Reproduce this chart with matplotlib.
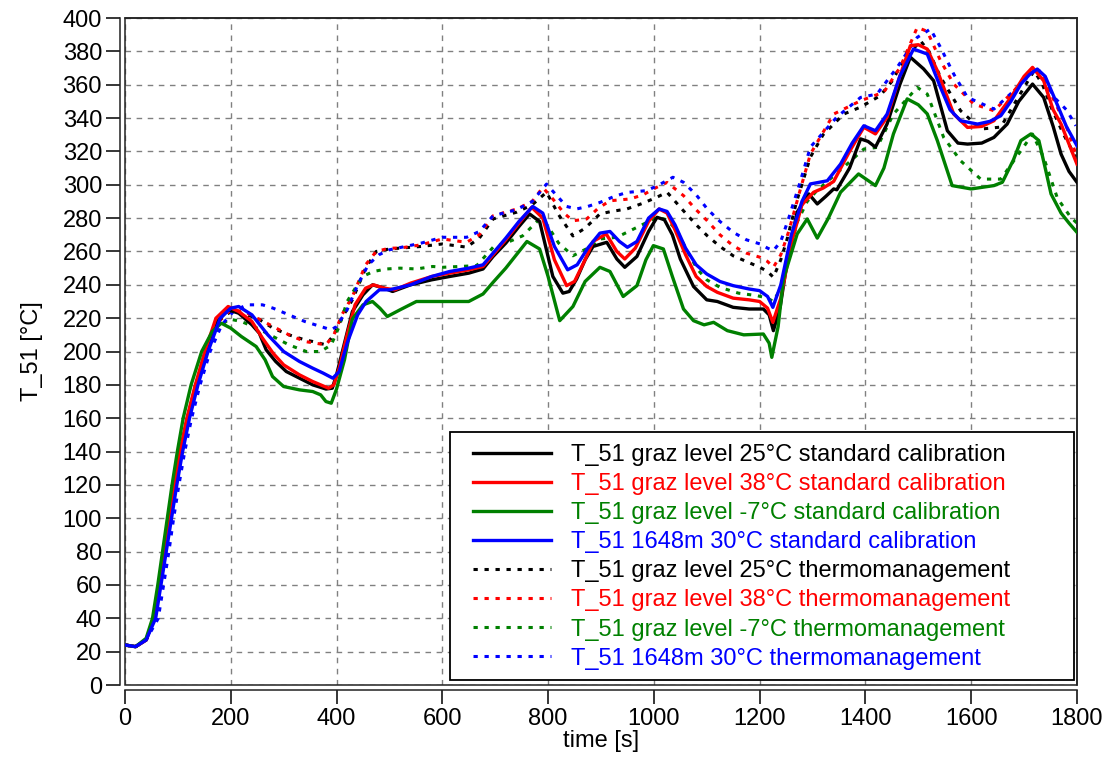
import matplotlib
matplotlib.use("Agg")
import matplotlib.pyplot as plt
from matplotlib.patches import Rectangle

plt.rcParams["font.family"] = ["Liberation Sans", "DejaVu Sans"]

# black solid: graz level 25°C standard calibration
t_bs = [0, 20, 40, 55, 65, 75, 84, 94, 105, 118, 134, 153, 175, 195, 215, 240, 254, 267, 285, 305, 330, 355, 380, 392, 400, 415, 430, 450, 468, 490, 506, 540, 580, 614, 650, 677, 696, 720, 745, 765, 784, 809, 828, 840, 854, 870, 885, 911, 930, 945, 968, 990, 1006, 1020, 1035, 1050, 1075, 1100, 1120, 1150, 1180, 1207, 1218, 1226, 1239, 1255, 1271, 1293, 1309, 1325, 1340, 1346, 1370, 1391, 1405, 1419, 1441, 1465, 1485, 1510, 1529, 1555, 1575, 1593, 1620, 1643, 1668, 1690, 1716, 1737, 1755, 1770, 1785, 1800]
T_bs = [24, 23, 27, 40, 60, 80, 100, 120, 140, 160, 180, 200, 218, 225, 223, 216, 211, 201, 194, 188, 184, 180, 177.5, 178, 186, 205, 224, 234, 240, 238, 236, 240, 243, 245, 247, 249.5, 257, 265, 275, 282.5, 278, 245, 235, 236, 243.5, 255, 263, 265.5, 255.5, 250.5, 257, 272, 280.5, 279, 270, 255.5, 239, 231, 230, 226.5, 225.5, 225.5, 222, 212.5, 227, 260, 283.6, 294.5, 288.5, 293, 297.5, 297, 310, 327.5, 326, 322.6, 336.5, 360, 376.5, 369.5, 362.4, 332.4, 325, 324.4, 325, 328.4, 336.4, 350, 360.4, 352.4, 335, 318.4, 308, 301.5]

# red solid: graz level 38°C standard calibration
t_rs = [0, 20, 40, 54, 64, 74, 83, 93, 104, 117, 133, 151, 172, 195, 215, 240, 260, 280, 300, 330, 355, 385, 395, 405, 420, 435, 455, 470, 490, 510, 540, 580, 614, 650, 677, 696, 720, 745, 769, 790, 812, 835, 850, 870, 885, 910, 930, 945, 965, 990, 1010, 1025, 1040, 1060, 1080, 1100, 1120, 1150, 1180, 1200, 1215, 1225, 1240, 1260, 1280, 1302, 1320, 1340, 1370, 1397, 1419, 1441, 1465, 1485, 1500, 1517, 1536, 1567, 1593, 1620, 1643, 1675, 1700, 1716, 1737, 1755, 1770, 1800]
T_rs = [24, 23, 27, 40, 60, 80, 100, 120, 140, 160, 180, 200, 220, 227, 224, 218, 208, 199, 192, 186, 182, 178, 180, 190, 210, 228, 238, 240, 238, 237, 241, 245, 247, 249, 251, 258, 267, 277, 286.5, 280, 255, 239.5, 242, 255, 266, 270.5, 260, 255.5, 262, 278, 285.5, 283, 273, 258, 245, 239, 235.5, 232, 231, 230, 226, 217.5, 232, 265, 288, 295.5, 298, 302, 320, 334.5, 330.5, 340.6, 365, 383.4, 384, 381.4, 368.4, 342.4, 334.4, 335, 338.4, 352.4, 365, 370.4, 362.4, 345, 336.4, 312.4]

# green solid: graz level -7°C standard calibration
t_gs = [0, 20, 40, 52, 62, 71, 80, 89, 99, 110, 125, 145, 165, 182, 200, 220, 248, 265, 279, 300, 330, 355, 370, 380, 390, 400, 415, 430, 450, 468, 482, 496, 520, 551, 580, 614, 650, 677, 696, 720, 740, 760, 784, 800, 822, 847, 870, 898, 917, 942, 968, 985, 999, 1018, 1035, 1056, 1075, 1095, 1113, 1139, 1170, 1207, 1218, 1223, 1235, 1245, 1271, 1290, 1309, 1330, 1353, 1387, 1419, 1435, 1453, 1479, 1500, 1517, 1536, 1564, 1600, 1643, 1659, 1680, 1694, 1713, 1728, 1740, 1751, 1770, 1785, 1800]
T_gs = [24, 23, 28, 40, 60, 80, 100, 120, 140, 160, 180, 200, 212, 217, 214, 209, 203, 195, 185, 179, 177, 176, 174, 170, 169, 177.5, 195, 219.5, 228, 230, 226, 221, 225, 230, 230, 230, 230, 234.5, 241.5, 250, 258, 266, 261.5, 245, 218.5, 227, 242, 250.5, 248, 233, 239.5, 255, 263.5, 261.5, 245, 225.5, 218.5, 216, 217.5, 212.5, 210, 210.5, 205, 196.5, 215, 243.5, 270.5, 279.5, 268, 280, 295.5, 306.5, 299.5, 310, 330.5, 351.5, 348, 342.5, 326.5, 299.5, 297.5, 299.5, 301.5, 315, 326.5, 330.5, 326.5, 310, 294.5, 283, 277, 271.5]

# blue solid: 1648m 30°C standard calibration
t_bls = [0, 20, 40, 58, 68, 78, 88, 98, 109, 122, 138, 157, 180, 200, 215, 240, 270, 300, 330, 355, 375, 393, 405, 420, 440, 456, 481, 500, 540, 580, 614, 650, 677, 696, 720, 745, 771, 790, 812, 837, 855, 875, 898, 917, 935, 950, 968, 990, 1010, 1025, 1040, 1060, 1080, 1100, 1125, 1150, 1180, 1200, 1215, 1225, 1240, 1260, 1280, 1296, 1328, 1353, 1375, 1397, 1419, 1441, 1465, 1491, 1517, 1542, 1560, 1580, 1612, 1635, 1656, 1675, 1694, 1710, 1725, 1740, 1757, 1780, 1800]
T_bls = [24, 23, 27, 40, 60, 80, 100, 120, 140, 160, 180, 200, 220, 226, 227, 222, 210, 200, 194, 190, 187, 184, 188, 205, 222, 230, 237, 237, 240, 245, 248, 250, 252, 259, 268, 278, 287, 283, 263, 249, 252, 262, 271, 272, 266, 262.5, 266, 280, 285.5, 284, 276, 262, 252, 246.5, 242, 239.5, 237.5, 236.5, 233, 226.5, 240, 270, 290, 300.5, 302.4, 312.4, 325, 335.4, 332.4, 342.4, 365, 381.4, 378.4, 358.4, 345, 338.4, 336.4, 338, 341.4, 350, 360.4, 366, 369.4, 365, 352.4, 335, 323.4]

# black dotted: graz level 25°C thermomanagement
t_bd = [0, 20, 40, 56, 66, 76, 85, 95, 106, 119, 135, 154, 176, 200, 220, 250, 280, 310, 340, 355, 380, 395, 410, 430, 455, 475, 500, 520, 560, 600, 646, 670, 696, 741, 770, 797, 820, 847, 870, 898, 920, 949, 980, 1006, 1025, 1056, 1080, 1101, 1125, 1150, 1175, 1201, 1215, 1226, 1240, 1252, 1270, 1296, 1320, 1359, 1391, 1428, 1450, 1472, 1504, 1520, 1542, 1580, 1618, 1656, 1688, 1719, 1735, 1751, 1775, 1798]
T_bd = [24, 23, 27, 40, 60, 80, 100, 120, 140, 160, 180, 200, 218, 224, 223, 220, 214, 210, 207, 206, 204, 210, 220, 231, 250, 260, 261.5, 262, 263, 264.5, 262.6, 268, 279.5, 283.6, 288, 295.5, 282, 269.3, 274, 282.5, 284, 285.5, 289, 292.6, 295.5, 284.4, 276, 269.4, 263, 257.4, 254, 250.4, 248, 244.5, 255, 267.5, 290, 316.6, 330, 342.4, 346.6, 353.4, 362, 374.4, 386.4, 380, 364.6, 344.4, 333.4, 334.6, 352, 368.4, 360, 346.6, 330, 316.6]

# red dotted: graz level 38°C thermomanagement
t_rd = [0, 20, 40, 57, 67, 77, 86, 96, 107, 120, 136, 155, 177, 200, 225, 250, 280, 310, 340, 360, 380, 395, 410, 430, 455, 475, 500, 519, 560, 600, 646, 670, 696, 741, 770, 790, 809, 830, 847, 873, 895, 917, 955, 980, 999, 1025, 1056, 1080, 1101, 1125, 1150, 1175, 1201, 1215, 1226, 1240, 1255, 1275, 1296, 1340, 1391, 1435, 1466, 1498, 1517, 1542, 1567, 1605, 1643, 1681, 1719, 1740, 1757, 1780, 1798]
T_rd = [24, 23, 27, 40, 60, 80, 100, 120, 140, 160, 180, 200, 218, 225, 224, 220, 215, 210, 206, 205, 204, 210, 222, 233, 252, 260, 262, 262, 264, 267.5, 265.5, 270, 281.4, 285.5, 290, 298.4, 291.5, 283, 278.4, 279.5, 286, 290.4, 291.5, 294, 297.5, 301.4, 293.5, 285, 278.4, 270, 263.4, 259, 256.5, 254, 250.5, 258, 272, 295, 318.4, 342.4, 350.4, 355.6, 370.6, 394.4, 392, 374.4, 360.4, 348.4, 344.4, 356.4, 370.4, 362, 350.4, 335, 318.4]

# green dotted: graz level -7°C thermomanagement
t_gd = [0, 20, 40, 55, 65, 75, 84, 94, 105, 118, 134, 153, 175, 197, 220, 250, 280, 310, 343, 370, 390, 405, 420, 449, 470, 494, 520, 551, 582, 600, 665, 696, 720, 752, 784, 800, 820, 847, 875, 898, 930, 974, 1006, 1025, 1044, 1060, 1082, 1100, 1125, 1160, 1195, 1215, 1226, 1239, 1255, 1271, 1290, 1308, 1359, 1397, 1422, 1453, 1498, 1517, 1548, 1580, 1618, 1656, 1694, 1716, 1737, 1763, 1788, 1800]
T_gd = [24, 23, 27, 40, 60, 80, 100, 120, 140, 160, 180, 200, 214, 219.5, 218, 214, 209, 204, 200, 200, 204, 215, 230, 245, 248, 249.5, 250, 249.5, 251, 250.5, 251.5, 262.5, 265, 269.4, 279.5, 275, 265, 257.4, 262, 267.5, 268.5, 275.4, 280.5, 279, 272.4, 262, 249.5, 243, 238.5, 235, 233.5, 232, 230, 237.5, 258, 277.6, 290, 296.4, 310.6, 321.4, 322.4, 342.4, 358.4, 354.4, 328.4, 314.4, 303.4, 303.4, 320.4, 330.4, 316.4, 292, 280.6, 277]

# blue dotted: 1648m 30°C thermomanagement
t_bld = [0, 20, 40, 63, 73, 83, 92, 102, 113, 126, 142, 161, 183, 205, 230, 260, 280, 310, 340, 360, 390, 400, 420, 440, 460, 480, 500, 530, 560, 600, 646, 670, 696, 740, 770, 797, 815, 835, 854, 875, 898, 925, 949, 987, 1010, 1036, 1056, 1080, 1101, 1125, 1150, 1175, 1201, 1215, 1226, 1240, 1255, 1275, 1296, 1346, 1391, 1422, 1460, 1498, 1523, 1542, 1567, 1593, 1643, 1681, 1725, 1757, 1780, 1798]
T_bld = [24, 23, 27, 40, 60, 80, 100, 120, 140, 160, 180, 200, 216, 224, 228, 228, 226, 222, 218, 216, 213, 215, 225, 240, 252, 258, 261, 263, 265, 268.5, 268.5, 272, 281.4, 285, 290, 300.4, 294, 287, 285.5, 287, 289.4, 293, 295.4, 296.5, 300, 304.5, 301.5, 294, 285.5, 278, 271.5, 267, 264.5, 262, 260.5, 266, 280, 300, 322.6, 340.6, 352.4, 354.4, 370.4, 388.4, 393.4, 382.4, 366.4, 352.4, 345.4, 356.4, 370.4, 352.4, 345, 335.4]

labels = [
    "T_51 graz level 25°C standard calibration",
    "T_51 graz level 38°C standard calibration",
    "T_51 graz level -7°C standard calibration",
    "T_51 1648m 30°C standard calibration",
    "T_51 graz level 25°C thermomanagement",
    "T_51 graz level 38°C thermomanagement",
    "T_51 graz level -7°C thermomanagement",
    "T_51 1648m 30°C thermomanagement",
]
colors = ["#000000", "#FF0000", "#008000", "#0000FF"]

series = [
    (t_bs, T_bs), (t_rs, T_rs), (t_gs, T_gs), (t_bls, T_bls),
    (t_bd, T_bd), (t_rd, T_rd), (t_gd, T_gd), (t_bld, T_bld),
]

fig = plt.figure(figsize=(11.09, 7.67), dpi=100)
ax = fig.add_axes([0.1127, 0.1069, 0.8584, 0.8696])

# dotted first so the solid lines sit on top
order = [4, 5, 6, 7, 0, 1, 2, 3]
handles = [None] * 8
for i in order:
    t, T = series[i]
    c = colors[i % 4]
    if i < 4:
        (ln,) = ax.plot(t, T, color=c, lw=2.4, solid_joinstyle="round", zorder=3)
    else:
        (ln,) = ax.plot(t, T, color=c, lw=2.2, linestyle=(0, (1.4, 2.2)),
                        dash_capstyle="butt", zorder=2)
    ln.set_label(labels[i])
    handles[i] = ln

ax.set_xlim(0, 1800)
ax.set_ylim(0, 400)
ax.set_xticks(range(0, 1801, 200))
ax.set_yticks(range(0, 401, 20))
ax.grid(True, color="#808080", linestyle=(0, (4, 4)), lw=1.0)
ax.set_axisbelow(True)

ax.spines["left"].set_position(("outward", 3.5))
ax.spines["bottom"].set_position(("outward", 3.5))
for s in ax.spines.values():
    s.set_linewidth(1.1)
    s.set_color("#222222")
ax.add_patch(Rectangle((0, 0), 1, 1, transform=ax.transAxes, fill=False,
                       lw=1.1, edgecolor="#222222", zorder=1, clip_on=False))

ax.tick_params(direction="out", length=10, width=1.1, labelsize=17, pad=3)
ax.set_xlabel("time [s]", fontsize=17, labelpad=0)
ax.set_ylabel("T_51 [°C]", fontsize=17, labelpad=14)

# legend box drawn separately so the entries can sit where the original has them
ax.add_patch(Rectangle((0.3417, 0.0075), 0.6551, 0.3718, transform=ax.transAxes,
                       facecolor="white", edgecolor="black", lw=1.3, zorder=4))
leg = ax.legend(handles=handles, loc="upper left",
                bbox_to_anchor=(0.366, 0.3613), borderaxespad=0, borderpad=0,
                fontsize=17, frameon=False, handlelength=3.3,
                handletextpad=0.85, labelspacing=0.3)
leg.set_zorder(5)
for txt, i in zip(leg.get_texts(), range(8)):
    txt.set_color(colors[i % 4])

fig.savefig("out.png", dpi=100)
